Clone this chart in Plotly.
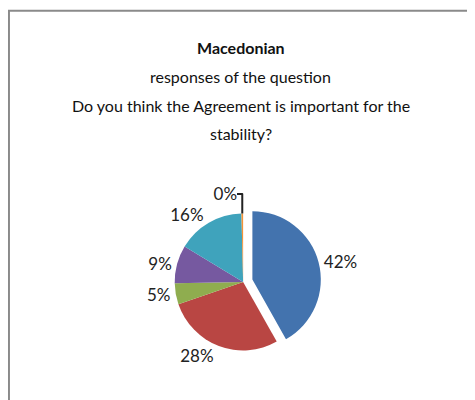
import plotly.graph_objects as go

labels = ["Yes", "Mostly yes", "Neither", "Mostly no", "No", "No answer"]
values = [42, 28, 5, 9, 16, 0.4]
text_labels = ["42%", "28%", "5%", "9%", "16%", "0%"]
colors = ["#4373AE", "#B94643", "#8FAD4F", "#7659A0", "#3FA3BC", "#F39237"]
pulls = [0.14, 0, 0, 0, 0, 0]

title_lines = ["<b>Macedonian</b>", "responses of the question",
               "Do you think the Agreement is important for the", "stability?"]

FONT = "Lato, sans-serif"

fig = go.Figure()
fig.add_trace(go.Pie(
    labels=labels, values=values, text=text_labels,
    textinfo="text", textposition="outside",
    marker=dict(colors=colors, line=dict(color="white", width=0)),
    pull=pulls, sort=False, direction="clockwise", rotation=0,
    domain=dict(x=[0.29, 0.70], y=[0.12, 0.51]),
    textfont=dict(family=FONT, size=17, color="#222"),
    showlegend=False, hoverinfo="label+percent",
))

ys = [0.90, 0.83, 0.757, 0.686]
for line, y in zip(title_lines, ys):
    fig.add_annotation(text=line, x=0.49, y=y, xref="paper", yref="paper",
                       showarrow=False, font=dict(family=FONT, size=16, color="#111"),
                       xanchor="center", yanchor="middle")

fig.add_shape(type="line", xref="paper", yref="paper", x0=0.0, x1=1, y0=0.993, y1=0.993,
              line=dict(color="#8a8a8a", width=2))
fig.add_shape(type="line", xref="paper", yref="paper", x0=0.002, x1=0.002, y0=0, y1=0.994,
              line=dict(color="#8a8a8a", width=2))

fig.update_layout(width=475, height=400, margin=dict(l=0, r=0, t=0, b=0),
                  paper_bgcolor="white", plot_bgcolor="white")
fig.write_html("out.html")
